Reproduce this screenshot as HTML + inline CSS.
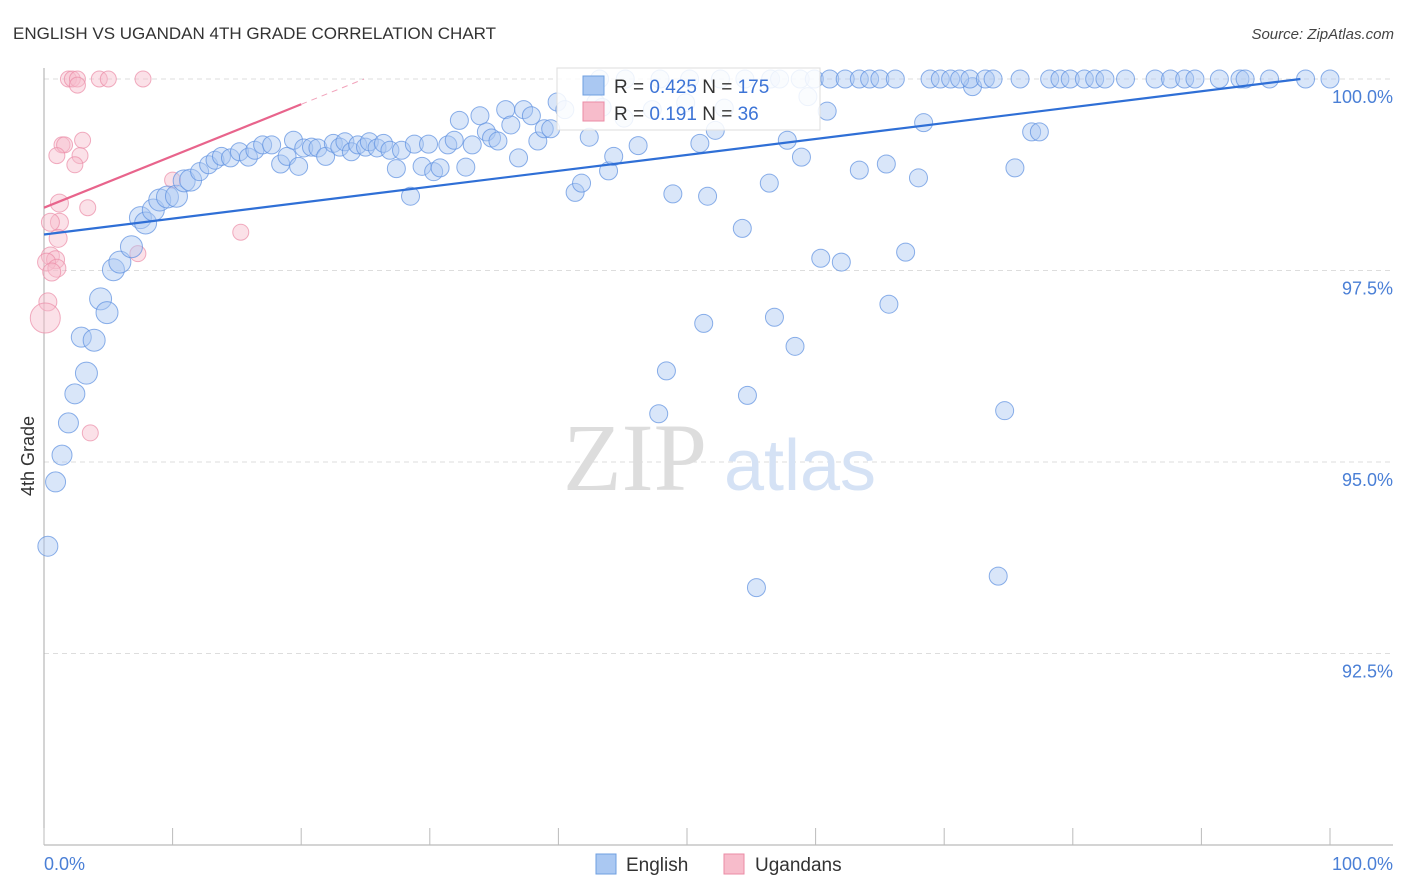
<!DOCTYPE html>
<html><head><meta charset="utf-8"><style>
body{margin:0;background:#fff;font-family:"Liberation Sans",sans-serif;}
svg{display:block}
</style></head><body>
<svg width="1406" height="892" xmlns="http://www.w3.org/2000/svg" id="chart">
<text x="13" y="39" font-size="17" fill="#333">ENGLISH VS UGANDAN 4TH GRADE CORRELATION CHART</text>
<text x="1394" y="39" font-size="15" fill="#444" font-style="italic" text-anchor="end">Source: ZipAtlas.com</text>
<text x="34" y="456" font-size="18" fill="#333" text-anchor="middle" transform="rotate(-90 34 456)">4th Grade</text>
<g id="grid"></g>
<g id="wm">
<text x="635" y="490" font-size="96" fill="#ddd" font-family="Liberation Serif,serif" text-anchor="middle">ZIP</text>
<text x="800" y="490" font-size="72" fill="#d5e2f5" text-anchor="middle">atlas</text>
</g>
<g id="axes"></g>
<g id="pts"></g>
<g id="lines"></g>
<g>
<rect x="557" y="68" width="263" height="62" fill="#fff" fill-opacity="0.85" stroke="#ddd"/>
<rect x="583" y="76" width="21" height="19" fill="#aac8f2" stroke="#6f9fe0"/>
<rect x="583" y="102" width="21" height="19" fill="#f7bccb" stroke="#eb8ba6"/>
<text x="614" y="93" font-size="19" fill="#333">R = <tspan fill="#3d74d6">0.425</tspan>   N = <tspan fill="#3d74d6">175</tspan></text>
<text x="614" y="120" font-size="19" fill="#333">R =  <tspan fill="#3d74d6"> 0.191</tspan>   N =  <tspan fill="#3d74d6"> 36</tspan></text>
</g>
<g>
<rect x="596" y="854" width="20" height="20" fill="#aac8f2" stroke="#6f9fe0"/>
<text x="626" y="871" font-size="19" fill="#333">English</text>
<rect x="724" y="854" width="20" height="20" fill="#f7bccb" stroke="#eb8ba6"/>
<text x="755" y="871" font-size="19" fill="#333">Ugandans</text>
</g>
</svg>
<script>
const yTicks=[100,97.5,95,92.5];
const yTickLabels=["100.0%","97.5%","95.0%","92.5%"];
const xTicks=[0,10,20,30,40,50,60,70,80,90,100];
const xEndLabels=["0.0%","100.0%"];
const englishX=[0.3,0.9,1.4,1.9,2.4,3.3,2.9,3.9,4.4,4.9,5.4,5.9,6.8,7.5,7.9,8.5,9.0,9.6,10.3,10.9,11.4,12.1,12.8,13.3,13.8,14.5,15.2,15.9,16.4,17.0,17.7,18.4,18.9,19.4,19.8,20.2,20.8,21.3,21.9,22.5,23.0,23.4,23.9,24.4,25.0,25.3,25.9,26.4,26.9,27.4,27.8,28.5,28.8,29.4,29.9,30.3,30.8,31.4,31.9,32.3,32.8,33.3,33.9,34.4,34.8,35.3,35.9,36.3,36.9,37.3,37.9,38.4,38.9,39.4,39.9,40.5,41.3,41.8,42.4,42.9,43.4,43.9,44.3,45.1,46.2,47.3,47.8,48.4,48.9,49.9,51.0,51.3,51.6,52.2,52.9,54.3,54.7,55.4,56.4,56.8,57.8,58.4,58.9,59.4,60.4,60.9,62.0,63.4,65.5,65.7,67.0,68.0,68.4,72.2,74.2,74.7,75.5,76.8,77.4,
43.2,45.2,47.9,50.2,52.6,54.5,56.5,57.2,58.8,59.9,61.1,62.3,63.4,64.2,65.0,66.2,68.9,69.7,70.5,71.2,72.0,73.2,73.8,75.9,78.2,79.0,79.8,80.9,81.7,82.5,84.1,86.4,87.6,88.7,89.5,91.4,93.0,93.4,95.3,98.1,100];
const englishY=[93.90,94.74,95.09,95.51,95.89,96.16,96.63,96.59,97.13,96.95,97.51,97.61,97.81,98.19,98.12,98.29,98.42,98.46,98.47,98.67,98.68,98.79,98.88,98.94,98.99,98.97,99.05,98.98,99.07,99.14,99.14,98.89,98.99,99.20,98.86,99.10,99.11,99.10,98.99,99.16,99.11,99.18,99.05,99.14,99.11,99.18,99.10,99.16,99.07,98.83,99.07,98.47,99.15,98.86,99.15,98.79,98.84,99.14,99.20,99.46,98.85,99.14,99.52,99.31,99.23,99.19,99.60,99.40,98.97,99.60,99.52,99.19,99.35,99.35,99.70,99.60,98.52,98.64,99.24,99.69,99.63,98.80,98.99,99.49,99.13,99.60,95.63,96.19,98.50,99.69,99.16,96.81,98.47,99.33,99.62,98.05,95.87,93.36,98.64,96.89,99.20,96.51,98.98,99.77,97.66,99.58,97.61,98.81,98.89,97.06,97.74,98.71,99.43,99.90,93.51,95.67,98.84,99.31,99.31,
100,100,100,100,100,100,100,100,100,100,100,100,100,100,100,100,100,100,100,100,100,100,100,100,100,100,100,100,100,100,100,100,100,100,100,100,100,100,100,100,100];
const ugandaX=[1.9,2.2,2.6,4.3,5.0,7.7,2.6,1.4,1.6,1.0,3.0,2.8,2.4,10.0,3.4,1.2,1.2,0.5,1.1,15.3,7.3,0.5,0.9,0.2,1.0,0.6,0.3,0.1,3.6];
const ugandaY=[100,100,100,100,100,100,99.92,99.14,99.14,99.0,99.2,99.0,98.88,98.68,98.32,98.38,98.13,98.13,97.92,98.0,97.72,97.69,97.64,97.61,97.53,97.48,97.09,96.88,95.38];
const englishTrend=[97.97,100.0]; // at x=0 and x=97.7
const ugandaTrend=[98.32,99.67]; // at x=0 and x=20 (solid), dashed beyond
const X0=44,X1=1330,Y100=79,PXY=76.6;
const sx=v=>X0+(X1-X0)*v/100;
const sy=v=>Y100+(100-v)*PXY;
const NS="http://www.w3.org/2000/svg";
function mk(tag,attrs,parent){const e=document.createElementNS(NS,tag);for(const k in attrs)e.setAttribute(k,attrs[k]);parent.appendChild(e);return e;}
const grid=document.getElementById('grid'),axes=document.getElementById('axes'),pts=document.getElementById('pts'),lines=document.getElementById('lines');
yTicks.forEach((t,i)=>{
 const l=mk('line',{x1:44,x2:1393,y1:sy(t),y2:sy(t),stroke:'#ddd','stroke-dasharray':'5,4'},grid);
 
 
 const tx=mk('text',{x:1393,y:sy(t)+24,'font-size':18,fill:'#4a7fd6','text-anchor':'end'},axes);
 tx.textContent=yTickLabels[i];
 
 
});
const ax=mk('line',{x1:44,x2:44,y1:68,y2:845,stroke:'#aaa'},axes);


const bx=mk('line',{x1:44,x2:1393,y1:845,y2:845,stroke:'#aaa'},axes);


xTicks.forEach(t=>{
 const l=mk('line',{x1:sx(t),x2:sx(t),y1:828,y2:845,stroke:'#bbb'},axes);
 
 
});
const xl0=mk('text',{x:44,y:870,'font-size':18,fill:'#4a7fd6'},axes);xl0.textContent=xEndLabels[0];


const xl1=mk('text',{x:1393,y:870,'font-size':18,fill:'#4a7fd6','text-anchor':'end'},axes);xl1.textContent=xEndLabels[1];


ugandaX.forEach((x,i)=>{
 const r=(i===27)?15:(x<2&&ugandaY[i]<98.5?9:8);
 const c=mk('circle',{cx:sx(x),cy:sy(ugandaY[i]),r:r,fill:'#f7bccb','fill-opacity':0.45,stroke:'#eb8ba6','stroke-opacity':0.7},pts);
 
 
});
englishX.forEach((x,i)=>{
 const r=x<12&&englishY[i]<99.9?(x<3?10:11):9;
 const c=mk('circle',{cx:sx(x),cy:sy(englishY[i]),r:r,fill:'#aac8f2','fill-opacity':0.45,stroke:'#5b8fe0','stroke-opacity':0.7},pts);
 
 
});
const bl=mk('line',{x1:sx(0),y1:sy(englishTrend[0]),x2:sx(97.7),y2:sy(englishTrend[1]),stroke:'#2f6fd6','stroke-width':2.2},lines);


const pl=mk('line',{x1:sx(0),y1:sy(ugandaTrend[0]),x2:sx(20),y2:sy(ugandaTrend[1]),stroke:'#e8648c','stroke-width':2.2},lines);


const slope=(ugandaTrend[1]-ugandaTrend[0])/20;
const xe=(100-ugandaTrend[0])/slope;
const pd=mk('line',{x1:sx(20),y1:sy(ugandaTrend[1]),x2:sx(xe),y2:sy(100),stroke:'#e8648c','stroke-width':1,'stroke-dasharray':'6,5','stroke-opacity':0.6},lines);


</script>
</body></html>
